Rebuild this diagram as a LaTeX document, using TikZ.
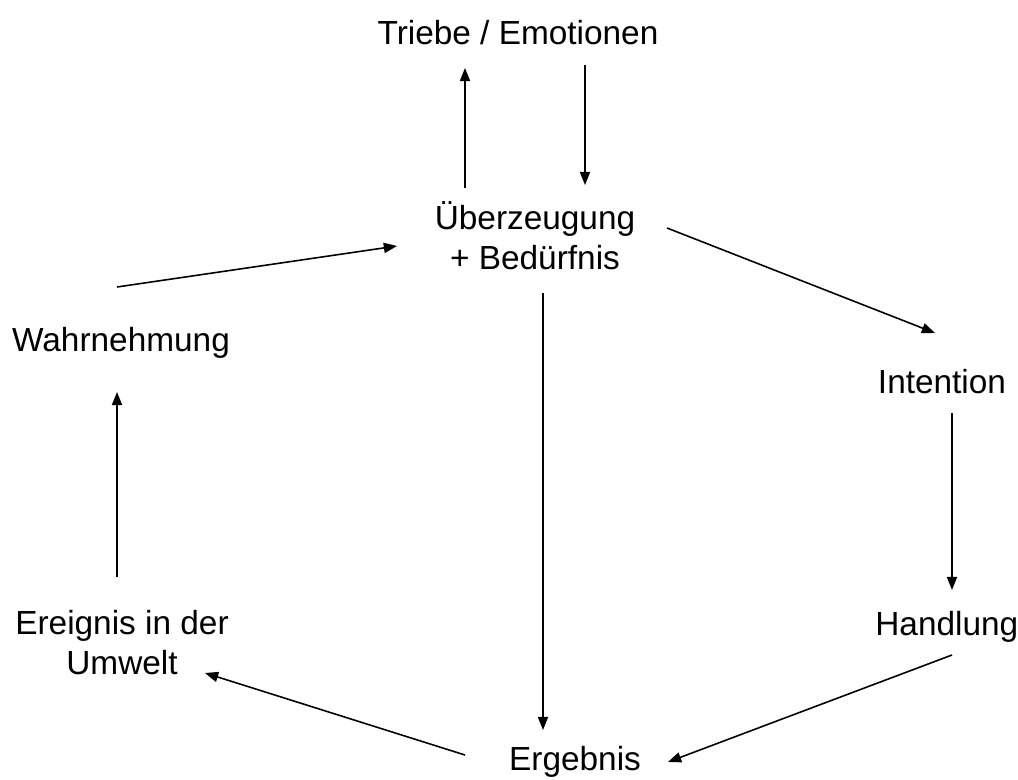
\documentclass[tikz,border=0pt]{standalone}
\usepackage{fontspec}
\setmainfont{Liberation Sans}
\usetikzlibrary{arrows.meta}
\begin{document}
\begin{tikzpicture}[x=0.02cm,y=-0.02cm,
  lbl/.style={inner sep=0pt, align=center, font=\fontsize{19}{22.7}\selectfont},
  arr/.style={line width=0.9pt, -{Triangle[length=7.5pt,width=5.8pt]}}]
\useasboundingbox (0,0) rectangle (1018,780);
\node[lbl] (1) at (518,33) {Triebe / Emotionen};
\node[lbl] (2) at (535,236) {Überzeugung\\+ Bedürfnis};
\node[lbl] (3) at (121,343) {Wahrnehmung};
\node[lbl] (4) at (942,382) {Intention};
\node[lbl,anchor=west] (5) at (875,627) {Handlung};
\node[lbl] (6) at (122,643) {Ereignis in der\\Umwelt};
\node[lbl] (7) at (575,762) {Ergebnis};
\path[draw,arr] ([shift={(-70,-48)}]2.center) -- ([shift={(-53,35)}]1.center);
\path[draw,arr] ([shift={(67,32)}]1.center) -- ([shift={(50,-51)}]2.center);
\path[draw,arr] ([shift={(-4,-56)}]3.center) -- ([shift={(-138,10)}]2.center);
\path[draw,arr] ([shift={(132,-8)}]2.center) -- ([shift={(-7,-49)}]4.center);
\path[draw,arr] ([shift={(10,31)}]4.center) -- ([shift={(77,-37)}]5.west);
\path[draw,arr] ([shift={(77,28)}]5.west) -- ([shift={(93,0)}]7.center);
\path[draw,arr] ([shift={(-110,-7)}]7.center) -- ([shift={(83,30)}]6.center);
\path[draw,arr] ([shift={(8,57)}]2.center) -- ([shift={(-32,-32)}]7.center);
\path[draw,arr] ([shift={(-5,-66)}]6.center) -- ([shift={(-4,49)}]3.center);
\end{tikzpicture}
\end{document}
